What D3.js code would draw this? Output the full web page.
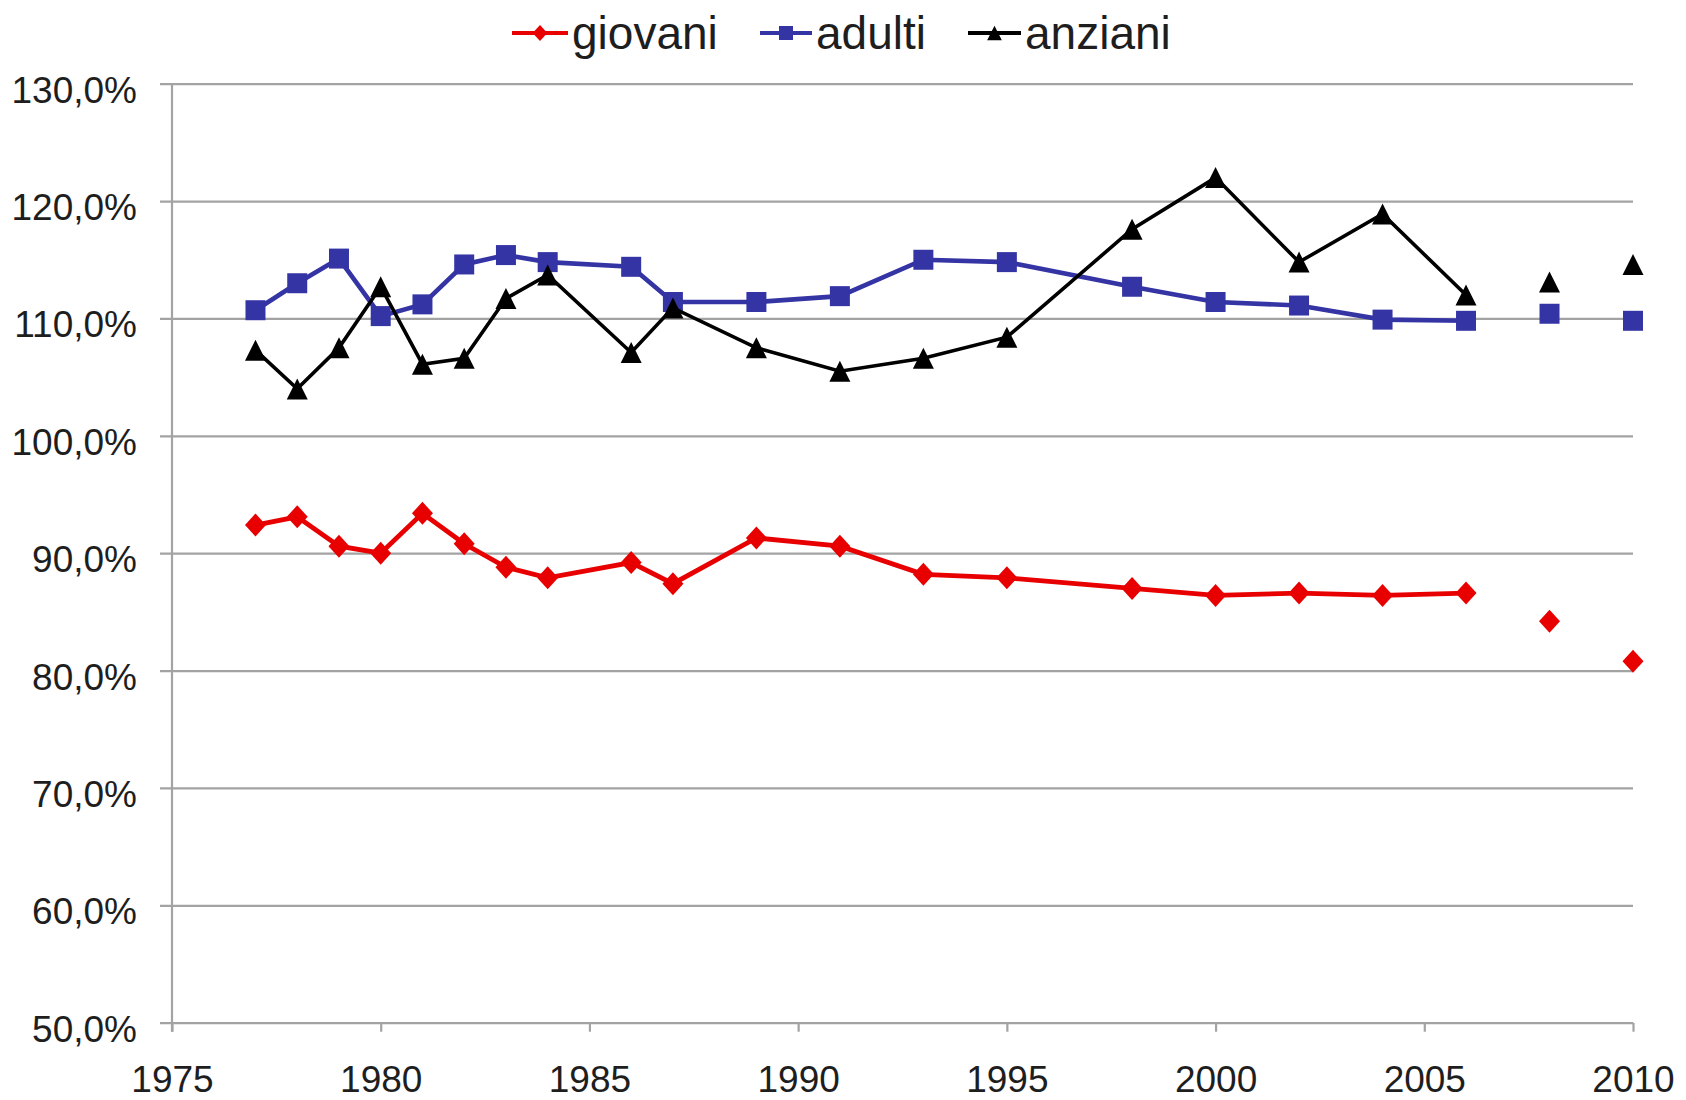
<!DOCTYPE html>
<html>
<head>
<meta charset="utf-8">
<script src="https://cdn.jsdelivr.net/npm/d3@7"></script>
<style>
  html, body { margin: 0; padding: 0; background: #ffffff; }
  svg { display: block; }
  text { font-family: "Liberation Sans", Arial, sans-serif; fill: #1e1e1e; }
</style>
</head>
<body>
<svg id="chart" width="1686" height="1100"></svg>
<script>
// Survey years; null entries (2007, 2009) break the connecting line.
const years   = [1977, 1978, 1979, 1980, 1981, 1982, 1983, 1984, 1986, 1987, 1989, 1991, 1993, 1995, 1998, 2000, 2002, 2004, 2006, 2007, 2008, 2009, 2010];
const giovani = [92.4, 93.1, 90.6, 90.0, 93.4, 90.8, 88.8, 87.9, 89.2, 87.4, 91.3, 90.6, 88.2, 87.9, 87.0, 86.4, 86.6, 86.4, 86.6, null, 84.2, null, 80.8];
const adulti  = [110.7, 113.0, 115.1, 110.2, 111.2, 114.6, 115.4, 114.8, 114.4, 111.4, 111.4, 111.9, 115.0, 114.8, 112.7, 111.4, 111.1, 109.9, 109.8, null, 110.4, null, 109.8];
const anziani = [107.3, 104.0, 107.5, 112.7, 106.1, 106.6, 111.7, 113.7, 107.1, 110.9, 107.5, 105.5, 106.6, 108.4, 117.6, 122.0, 114.8, 118.9, 112.0, null, 113.1, null, 114.6];

const seriesNames = ["giovani", "adulti", "anziani"];
const seriesColors = ["#e80000", "#3434a4", "#000000"];
const seriesShapes = ["diamond", "square", "triangle"];
const yTicks = [50, 60, 70, 80, 90, 100, 110, 120, 130];
const xTicks = [1975, 1980, 1985, 1990, 1995, 2000, 2005, 2010];

const series = [giovani, adulti, anziani].map((vals, i) => ({
  name: seriesNames[i],
  color: seriesColors[i],
  shape: seriesShapes[i],
  points: years.map((yr, j) => ({ year: yr, value: vals[j] }))
}));

const svg = d3.select("#chart");
const x = d3.scaleLinear().domain([1975, 2010]).range([172, 1633]);
const y = d3.scaleLinear().domain([50, 130]).range([1022.7, 83.7]);

const fmtPct = v => d3.format(".1f")(v).replace(".", ",") + "%";

// Horizontal gridlines with left ticks and labels
const yAxis = d3.axisLeft(y).tickValues(yTicks).tickSize(-(x.range()[1] - x.range()[0])).tickPadding(0).tickFormat(fmtPct);
const gy = svg.append("g").attr("transform", `translate(${x.range()[0]},0)`).call(yAxis);
gy.select(".domain").remove();
gy.selectAll(".tick line").attr("x1", -12).attr("stroke", "#a3a3a3").attr("stroke-width", 2.2);
gy.selectAll(".tick text")
  .attr("x", -35).attr("dy", null).attr("y", 18.5)
  .attr("text-anchor", "end")
  .style("font-size", "37px").style("font-family", "'Liberation Sans', Arial, sans-serif").style("fill", "#1e1e1e");

// Vertical axis line
svg.append("line")
  .attr("x1", x.range()[0]).attr("x2", x.range()[0])
  .attr("y1", y(130)).attr("y2", y(50) + 9)
  .attr("stroke", "#a3a3a3").attr("stroke-width", 2.2);

// Bottom axis: ticks every five years
const xAxis = d3.axisBottom(x).tickValues(xTicks).tickSize(9).tickPadding(0).tickFormat(d3.format("d"));
const gx = svg.append("g").attr("transform", `translate(0,${y(50)})`).call(xAxis);
gx.select(".domain").remove();
gx.selectAll(".tick line").attr("stroke", "#a3a3a3").attr("stroke-width", 2.2);
gx.selectAll(".tick text")
  .attr("y", 69.5).attr("dy", null)
  .style("font-size", "37px").style("font-family", "'Liberation Sans', Arial, sans-serif").style("fill", "#1e1e1e");

// Marker path generators
function markerPath(shape, cx, cy, s) {
  if (shape === "diamond") {
    const w = 10.5 * s, h = 11.5 * s;
    return `M${cx},${cy - h}L${cx + w},${cy}L${cx},${cy + h}L${cx - w},${cy}Z`;
  }
  if (shape === "square") {
    const h = 10 * s;
    return `M${cx - h},${cy - h}H${cx + h}V${cy + h}H${cx - h}Z`;
  }
  const w = 10.5 * s, h = 10.5 * s;
  return `M${cx},${cy - h}L${cx + w},${cy + h}L${cx - w},${cy + h}Z`;
}

const line = d3.line()
  .defined(d => d.value != null)
  .x(d => x(d.year))
  .y(d => y(d.value));

const lineWidths = [4.8, 4.6, 3.6];

series.forEach((s, i) => {
  const g = svg.append("g").attr("class", "series-" + s.name);
  g.append("path")
    .datum(s.points)
    .attr("d", line)
    .attr("fill", "none")
    .attr("stroke", s.color)
    .attr("stroke-width", lineWidths[i])
    .attr("stroke-linejoin", "miter");
  g.selectAll("path.marker")
    .data(s.points.filter(d => d.value != null))
    .join("path")
    .attr("class", "marker")
    .attr("d", d => markerPath(s.shape, x(d.year), y(d.value), 1))
    .attr("fill", s.color);
});

// Legend
const legendItems = [
  { lx: 512, le: 568, tx: 572 },
  { lx: 760, le: 812, tx: 816 },
  { lx: 968, le: 1021, tx: 1025 }
];
const legend = svg.append("g").attr("class", "legend");
series.forEach((s, i) => {
  const it = legendItems[i];
  const cx = (it.lx + it.le) / 2;
  legend.append("line")
    .attr("x1", it.lx).attr("x2", it.le)
    .attr("y1", 33).attr("y2", 33)
    .attr("stroke", s.color).attr("stroke-width", 3.8);
  legend.append("path")
    .attr("d", markerPath(s.shape, cx, 33, 0.7))
    .attr("fill", s.color);
  legend.append("text")
    .attr("x", it.tx).attr("y", 49)
    .style("font-size", "46px")
    .text(s.name);
});
</script>
</body>
</html>
